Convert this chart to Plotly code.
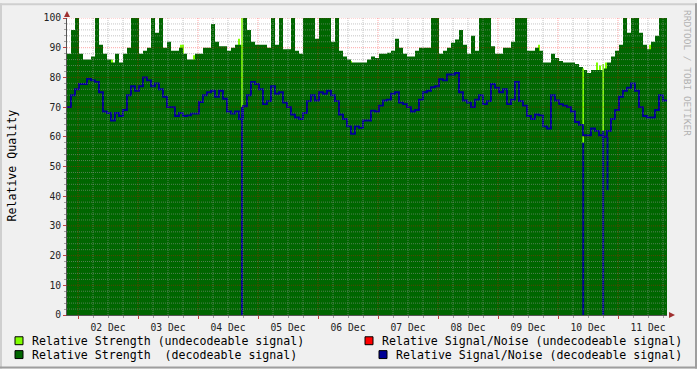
import pandas as pd
import plotly.graph_objects as go

# ---------------- data ----------------
start = "2008-12-01 19:36"
step_minutes = 96

strength_decodeable = [
    88, 96, 100, 88, 86, 86, 87, 100, 91, 88, 86, 85, 88, 85, 88, 90, 100, 100, 88, 89,
    90, 100, 95, 100, 90, 92, 89, 89, 90, 88,
    86, 86, 88, 88, 90, 90, 98, 92, 90.5, 90.5, 89, 90, 91, 91, 100, 96, 92, 91, 91, 91,
    90, 100, 91, 100, 89.5, 89.5, 100, 89, 88, 100,
    100, 100, 93, 100, 100, 100, 92, 100, 89, 87, 86, 85, 85, 85, 85, 86, 87, 86.5, 88, 88,
    88.3, 89, 93, 90, 88, 87, 87, 89, 90, 90,
    90, 100, 100, 88, 89, 90, 91.7, 92.8, 96, 91, 88, 94, 89, 100, 100, 100, 90.5, 88, 88, 90,
    90, 92, 100, 100, 100, 89, 89, 90, 89, 85,
    85, 88, 86.5, 85.5, 85, 85, 85, 84.5, 83.5, 82.5, 81.5, 82.5, 82.5, 82.5, 83, 85, 87, 89, 91, 100,
    95, 100, 100, 95, 91, 89.5, 92, 94, 100, 100,
]

snr_decodeable = [
    70, 74, 76, 77.8, 77.8, 79.5, 79, 78.5, 75, 68.5, 68, 65.5, 68, 67, 69, 74, 77, 75.5, 77, 80,
    79, 77, 78, 76, 73.5, 70, 70, 67, 68, 67,
    67.2, 67.8, 67.8, 71.7, 74, 75, 75.5, 73.5, 75.5, 72.8, 68.5, 67.8, 68.5, 66, 70.3, 74, 78.5, 77.8, 76, 71,
    72, 77, 74.5, 75, 71.5, 70, 67.5, 66.5, 66, 68,
    72, 74, 72.2, 75, 74.5, 75.5, 74, 72, 67.5, 66, 63.5, 61, 63.5, 63, 65.5, 65.5, 68.8, 68.5, 70.5, 72.2,
    72.5, 74.5, 75, 71.5, 71, 70, 68.5, 69, 72.5, 75,
    75.5, 76.7, 77, 79.4, 79, 81, 81, 81.5, 75, 72.2, 71.5, 70, 72.5, 74, 71, 72, 77.8, 76.5, 75, 76,
    71, 72.5, 78.5, 72, 70.5, 67, 66, 67.5, 67.2, 63.5,
    62.8, 74, 72.2, 71, 70.5, 70, 68.5, 65, 64, 60.5, 60.5, 62.8, 62, 60.5, 60, 62, 66, 69, 73.5, 75.5,
    76.5, 78, 75.5, 70, 67, 66.5, 66.5, 69, 74, 72.2,
]

# undecodeable strength peeking above the decodeable area
tip_times = [
    "2008-12-02 13:36", "2008-12-03 17:12", "2008-12-03 18:00", "2008-12-03 22:24",
    "2008-12-04 16:24", "2008-12-06 13:12", "2008-12-08 18:24", "2008-12-09 16:24",
    "2008-12-10 15:36", "2008-12-10 16:48", "2008-12-10 19:12", "2008-12-10 20:24",
    "2008-12-11 12:48", "2008-12-11 18:48",
]
tip_values = [86, 91, 91, 87.5, 93, 85.5, 98, 91, 85, 84, 85, 83, 91, 100]

# moments with undecodeable signal only
drop_times = ["2008-12-04 17:36", "2008-12-10 10:05", "2008-12-10 18:05"]
drop_strength = [100, 83, 84.5]
drop_snr_top = [70, 58, 62]
drop_snr_bottom = [0, 0, 0]

dip_times = ["2008-12-10 19:48"]
dip_top = [60]
dip_bottom = [42]

legend_labels = [
    "Relative Strength (undecodeable signal)",
    "Relative Strength  (decodeable signal)",
    "Relative Signal/Noise (undecodeable signal)",
    "Relative Signal/Noise (decodeable signal)",
]

# ---------------- style ----------------
LG = "#80FF00"
DG = "#006600"
RED = "#FF0000"
BLUE = "#000094"
MONO = "DejaVu Sans Mono"

times = pd.date_range(start, periods=len(strength_decodeable) + 1, freq=f"{step_minutes}min")
x_start, x_end = times[0], times[-1]

fig = go.Figure()

fig.add_trace(go.Bar(
    x=tip_times, y=tip_values, width=2 * 24 * 60 * 1000,
    marker=dict(color=LG, line=dict(width=0)), hoverinfo="skip",
))

fig.add_trace(go.Scatter(
    x=times, y=strength_decodeable + [strength_decodeable[-1]],
    mode="lines", line=dict(shape="hv", width=0, color=DG),
    fill="tozeroy", fillcolor=DG, hoverinfo="skip",
))

lx, ly = [], []
for t, s, b in zip(drop_times, drop_strength, drop_snr_top):
    lx += [t, t, None]
    ly += [b, s, None]
fig.add_trace(go.Scatter(x=lx, y=ly, mode="lines",
                         line=dict(color=LG, width=1.6), hoverinfo="skip"))

fig.add_trace(go.Scatter(
    x=times, y=snr_decodeable + [snr_decodeable[-1]],
    mode="lines", line=dict(shape="hv", width=1.9, color=BLUE), hoverinfo="skip",
))

bx, by = [], []
for t, a, b in zip(drop_times + dip_times, drop_snr_top + dip_top, drop_snr_bottom + dip_bottom):
    bx += [t, t, None]
    by += [a, b, None]
fig.add_trace(go.Scatter(x=bx, y=by, mode="lines",
                         line=dict(color=BLUE, width=1.9), hoverinfo="skip"))

shapes = []
MINOR = "rgba(150,150,150,0.55)"
MAJOR = "rgba(255,0,0,0.35)"
for g in pd.date_range("2008-12-01 18:00", "2008-12-11 18:00", freq="6h"):
    if x_start < g < x_end:
        shapes.append(dict(type="line", xref="x", yref="paper", x0=g, x1=g, y0=0, y1=1,
                           line=dict(color=MAJOR if g.hour == 0 else MINOR, width=1, dash="1px,1px"),
                           layer="above"))
for v in range(2, 101, 2):
    shapes.append(dict(type="line", xref="paper", yref="y", x0=0, x1=1, y0=v, y1=v,
                       line=dict(color=MAJOR if v % 10 == 0 else MINOR, width=1, dash="1px,1px"),
                       layer="above"))

# frame (3D border)
W, H = 697, 369
L, T, PW, PH = 67, 15, 600, 300
def px(x):
    return (x - L) / PW
def py(y):
    return (T + PH - y) / PH
shapes += [
    dict(type="line", xref="paper", yref="paper", x0=px(0), x1=px(W), y0=py(1), y1=py(1),
         line=dict(color="#CFCFCF", width=2), layer="above"),
    dict(type="line", xref="paper", yref="paper", x0=px(1), x1=px(1), y0=py(0), y1=py(H),
         line=dict(color="#CFCFCF", width=2), layer="above"),
    dict(type="line", xref="paper", yref="paper", x0=px(0), x1=px(W), y0=py(H - 1), y1=py(H - 1),
         line=dict(color="#9E9E9E", width=2), layer="above"),
    dict(type="line", xref="paper", yref="paper", x0=px(W - 1), x1=px(W - 1), y0=py(0), y1=py(H),
         line=dict(color="#9E9E9E", width=2), layer="above"),
]
# axis arrows
shapes += [
    dict(type="path", xref="paper", yref="paper", xsizemode="pixel", ysizemode="pixel",
         xanchor=0, yanchor=1, path="M-3,1 L3,1 L0,7 Z",
         fillcolor="#A03030", line=dict(width=0), layer="above"),
    dict(type="path", xref="paper", yref="paper", xsizemode="pixel", ysizemode="pixel",
         xanchor=1, yanchor=0, path="M2,-3 L2,3 L8,0 Z",
         fillcolor="#A03030", line=dict(width=0), layer="above"),
]

# legend boxes
legend_colors = [LG, DG, RED, BLUE]
box_x = [15, 15, 365, 379]
text_x = [30, 30, 380, 394]
row_y = [341, 355, 341, 355]
annotations = []
for c, bxp, txp, ryp, lab in zip(legend_colors, box_x, text_x, row_y, legend_labels):
    shapes.append(dict(type="rect", xref="paper", yref="paper",
                       x0=px(bxp), x1=px(bxp + 8), y0=py(ryp + 4), y1=py(ryp - 4),
                       fillcolor=c, line=dict(color="black", width=1)))
    annotations.append(dict(xref="paper", yref="paper", x=px(txp), y=py(ryp),
                            xanchor="left", yanchor="middle", showarrow=False, text=lab,
                            font=dict(family=MONO, size=11.6, color="#000000")))

annotations.append(dict(xref="paper", yref="paper", x=px(12), y=py(164), textangle=-90,
                        xanchor="center", yanchor="middle", showarrow=False,
                        text="Relative Quality", font=dict(family=MONO, size=11.6, color="#000")))
annotations.append(dict(xref="paper", yref="paper", x=px(688), y=py(5), textangle=90,
                        xanchor="center", yanchor="top", showarrow=False,
                        text="RRDTOOL / TOBI OETIKER", font=dict(family=MONO, size=9.5, color="#B0B0B0")))

fig.update_layout(
    width=W, height=H,
    margin=dict(l=L, r=W - L - PW, t=T, b=H - T - PH, pad=0),
    paper_bgcolor="#F0F0F0", plot_bgcolor="#FFFFFF",
    showlegend=False, barmode="overlay",
    shapes=shapes, annotations=annotations,
    xaxis=dict(
        type="date", range=[x_start, x_end], showgrid=False, zeroline=False,
        tickmode="linear", tick0="2008-12-01", dtick=86400000,
        ticklabelmode="period", tickformat="%d %b",
        ticks="outside", ticklen=3, tickcolor="#C04040",
        minor=dict(dtick=6 * 3600000, ticks="outside", ticklen=2, tickcolor="#A0A0A0", showgrid=False),
        showline=True, linecolor="#555555", linewidth=1,
        tickfont=dict(family=MONO, size=9.7, color="#222"),
    ),
    yaxis=dict(
        range=[0, 100], showgrid=False, zeroline=False,
        tickmode="linear", tick0=0, dtick=10,
        ticks="outside", ticklen=3, tickcolor="#C04040",
        minor=dict(dtick=2, ticks="outside", ticklen=2, tickcolor="#A0A0A0", showgrid=False),
        showline=True, linecolor="#555555", linewidth=1,
        tickfont=dict(family=MONO, size=9.7, color="#222"),
    ),
)

fig.write_html("out.html")
